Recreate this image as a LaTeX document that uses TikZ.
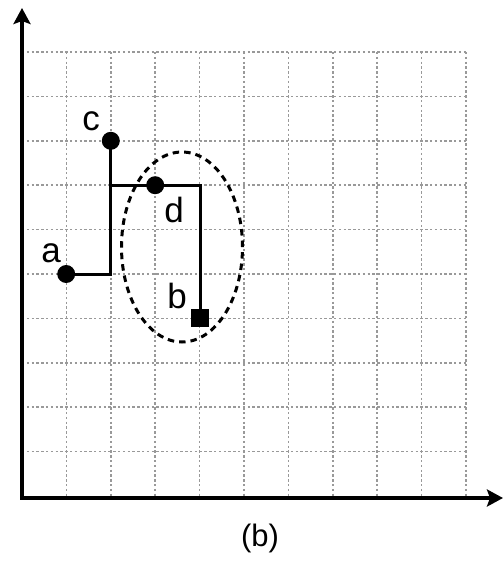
\documentclass[tikz,border=0pt]{standalone}
\usepackage{fontspec}
\setmainfont{Liberation Sans}
\usetikzlibrary{arrows.meta,shapes.geometric}
\begin{document}
\begin{tikzpicture}[x=1pt,y=-1pt,
  gridline/.style={draw=gray!80,line width=1.7pt,dash pattern=on 2.4pt off 2.4pt},
  axisline/.style={draw=black,line width=3.6pt,{Stealth[length=16pt,width=17pt,inset=3pt]}-{Stealth[length=16pt,width=17pt,inset=3pt]}},
  pathline/.style={draw=black,line width=3pt},
  dotnode/.style={circle,fill=black,inner sep=0pt,minimum size=18pt},
  sqnode/.style={rectangle,fill=black,inner sep=0pt,minimum size=18pt},
  lbl/.style={font=\fontsize{35}{35}\selectfont,inner sep=0pt},
  ring/.style={draw=black,line width=3pt,dash pattern=on 6.5pt off 5pt}]
\useasboundingbox (0,0) rectangle (503,563);
% grid
\foreach \k in {1,...,10}{
  \draw[gridline] ({22+44.4*\k},52) -- ({22+44.4*\k},497);
}
\foreach \k in {0,...,9}{
  \draw[gridline] (22,{52+44.4*\k}) -- (466,{52+44.4*\k});
}
% axes
\coordinate (O) at (22,498);
\coordinate (Y) at (22,8);
\coordinate (X) at (503,498);
\draw[axisline] (Y) -- (O) -- (X);
% ellipse
\node[ring,ellipse,minimum width=121pt,minimum height=190pt,inner sep=0pt] (e) at (182,247) {};
% points
\node[dotnode] (a) at (66.2,274) {};
\node[dotnode] (c) at (110.8,140.8) {};
\node[dotnode] (d) at (155.2,185.2) {};
\node[sqnode] (b) at (200,317.5) {};
\draw[pathline] (a.center) -- (a -| c) -- (c.center);
\draw[pathline] (c |- d) -- (d.center) -- (b |- d) -- (b.center);
% labels
\node[lbl] (la) at (51,253) {a};
\node[lbl] (lc) at (91,121) {c};
\node[lbl] (ld) at (174,210) {d};
\node[lbl] (lb) at (177,296) {b};
\node[font=\fontsize{31}{31}\selectfont,inner sep=0pt] (cap) at (260,538) {(b)};
\end{tikzpicture}
\end{document}
